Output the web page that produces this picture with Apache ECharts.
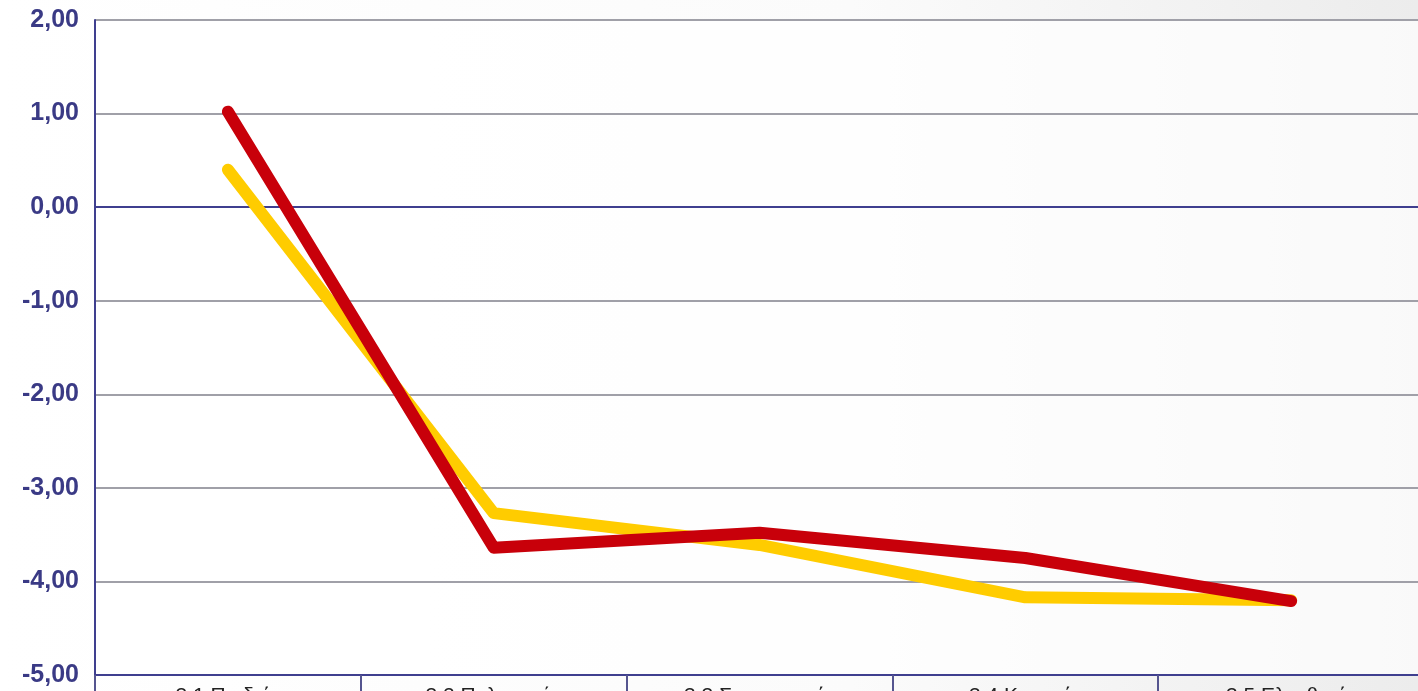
<!DOCTYPE html>
<html>
<head>
<meta charset="utf-8">
<script src="https://cdn.jsdelivr.net/npm/echarts@6/dist/echarts.min.js"></script>
<style>
  html, body {
    margin: 0;
    padding: 0;
    overflow: hidden;
    width: 1418px;
    height: 691px;
  }
  body {
    background: linear-gradient(to right, #ffffff 0%, #fbfbfb 60%, #ececec 100%);
  }
  #chart {
    width: 1430px;
    height: 722px;
  }
</style>
</head>
<body>
<div id="chart"></div>
<script>
// categories (labels are cut off by the bottom edge in the original)
const categories = ['3.1 Παιδεία', '3.2 Πολιτισμός', '3.3 Συγκοινωνία', '3.4 Κατοικία', '3.5 Ελευθερία']
// series values
const redValues = [1.02, -3.64, -3.48, -3.75, -4.21]
const yellowValues = [0.40, -3.27, -3.61, -4.17, -4.20]
// y axis range
const yMin = -5
const yMax = 2
const yStep = 1

const navy = '#3f3f8f'

let myChart = echarts.init(document.getElementById('chart'))

const options = {
  animation: false,
  grid: {
    left: 95,
    right: 6,
    top: 20,
    bottom: 47,
    show: true,
    backgroundColor: 'rgba(255,255,255,0.7)',
    borderWidth: 0
  },
  xAxis: {
    type: 'category',
    data: categories,
    boundaryGap: true,
    axisLine: {
      onZero: false,
      lineStyle: { color: navy, width: 2 }
    },
    axisTick: {
      show: true,
      alignWithLabel: false,
      length: 40,
      lineStyle: { color: '#55558f', width: 2 }
    },
    axisLabel: {
      interval: 0,
      margin: 11,
      fontFamily: 'Liberation Sans, Arial, sans-serif',
      fontSize: 21,
      color: '#222'
    },
    splitLine: { show: false }
  },
  yAxis: {
    type: 'value',
    min: yMin,
    max: yMax,
    interval: yStep,
    axisLine: {
      show: true,
      lineStyle: { color: navy, width: 2 }
    },
    axisTick: { show: false },
    axisLabel: {
      margin: 16,
      fontFamily: 'Liberation Sans, Arial, sans-serif',
      fontSize: 25,
      fontWeight: 'bold',
      color: '#3a3a85',
      formatter: v => v.toFixed(2).replace('.', ',')
    },
    splitLine: {
      show: true,
      lineStyle: { color: '#a0a0a8', width: 2 }
    }
  },
  series: [
    {
      name: 'yellow',
      type: 'line',
      data: yellowValues,
      symbol: 'none', // 去除原点
      lineStyle: { color: '#ffcc00', width: 12, cap: 'round', join: 'round' },
      color: '#ffcc00',
      z: 3,
      markLine: {
        silent: true,
        symbol: 'none',
        label: { show: false },
        lineStyle: { color: navy, width: 2, type: 'solid' },
        data: [{ yAxis: 0 }],
        z: 1
      }
    },
    {
      name: 'red',
      type: 'line',
      data: redValues,
      symbol: 'none',
      lineStyle: { color: '#c8000a', width: 12, cap: 'round', join: 'round' },
      color: '#c8000a',
      z: 4
    }
  ]
}

myChart.setOption(options)
</script>
</body>
</html>
